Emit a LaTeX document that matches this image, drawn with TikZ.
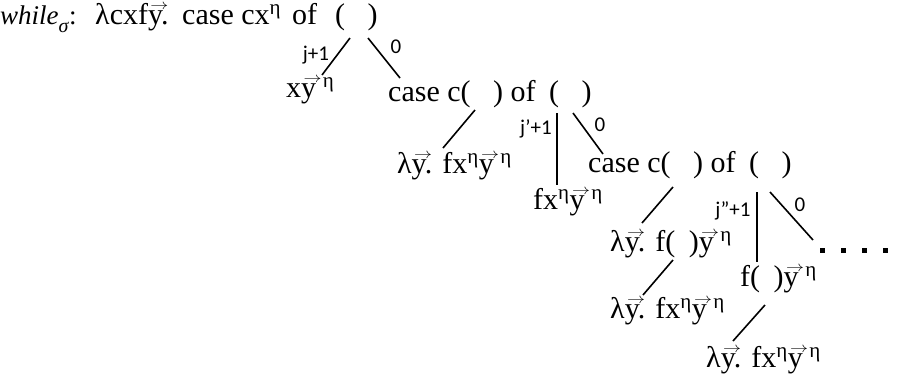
\documentclass[tikz,border=0pt]{standalone}
\usepackage{fontspec}
\usepackage{graphicx}
\setmainfont{Liberation Serif}
\newfontfamily\labfont{Carlito}
\newcommand{\vy}{\makebox[0pt][l]{\raisebox{0.47em}{\hspace{0.08em}\scalebox{1.25}[1]{$\scriptscriptstyle\rightarrow$}}}y}
\newcommand{\sh}{\textsuperscript{η}}
\newcommand{\sg}{\hspace{0.22em}\textsuperscript{η}}
\newcommand{\gp}{(\hspace{0.75em})}
\newcommand{\gs}{(\hspace{0.45em})}
\begin{document}
\begin{tikzpicture}[x=1pt,y=-1pt,
  term/.style={anchor=base west,inner sep=0pt,font=\fontsize{30}{34}\selectfont},
  lab/.style={inner sep=0pt,font=\labfont\fontsize{21}{24}\selectfont},
  edge/.style={line width=1.6pt}]
\useasboundingbox (0,0) rectangle (898,381);
\node[term,font=\fontsize{27}{30}\selectfont] (w) at (0,24) {\textit{while}\raisebox{-0.3em}{\fontsize{20}{22}\selectfont\textit{σ}}:};
\node[term] (t0) at (95,24) {λcxf\vy.\hspace{0.12em} case cx\sh\hspace{0.12em} of\hspace{0.35em} \gp};
\node[term] (a1) at (286,97) {x\vy\sg};
\node[term] (t1) at (388,101) {case c\gp{} of\hspace{0.2em} \gp};
\node[term] (b1) at (397,173) {λ\vy. fx\sh\vy\sg};
\node[term] (a2) at (533,209) {fx\sh\vy\sg};
\node[term] (t2) at (588,172) {case c\gp{} of\hspace{0.2em} \gp};
\node[term] (b2) at (610,251) {λ\vy. f\gs\vy\sg};
\node[term] (c2) at (610,318) {λ\vy. fx\sh\vy\sg};
\node[term] (a3) at (740,286) {f\gs\vy\sg};
\node[term] (c3) at (706,367) {λ\vy. fx\sh\vy\sg};
\node[lab] (l1) at (316,55) {j+1};
\node[lab] (l2) at (396,47) {0};
\node[lab] (l3) at (536,129) {j’+1};
\node[lab] (l4) at (600,125) {0};
\node[lab] (l5) at (733,211) {j”+1};
\node[lab] (l6) at (800,205) {0};
\coordinate (p1) at (350,38); \coordinate (q1) at (322,75);
\coordinate (p2) at (368,38); \coordinate (q2) at (400,78);
\coordinate (p3) at (475,110); \coordinate (q3) at (443,148);
\coordinate (p4) at (557,113); \coordinate (q4) at (557,185);
\coordinate (p5) at (573,113); \coordinate (q5) at (603,154);
\coordinate (p6) at (673,187); \coordinate (q6) at (642,223);
\coordinate (p7) at (757,192); \coordinate (q7) at (757,262);
\coordinate (p8) at (770,192); \coordinate (q8) at (813,240);
\coordinate (p9) at (673,260); \coordinate (q9) at (643,295);
\coordinate (p10) at (765,305); \coordinate (q10) at (733,341);
\foreach \i in {1,...,10} \draw[edge] (p\i) -- (q\i);
\foreach \x in {820,841,862,883} \fill (\x,253) rectangle ++(5,-5);
\end{tikzpicture}
\end{document}
